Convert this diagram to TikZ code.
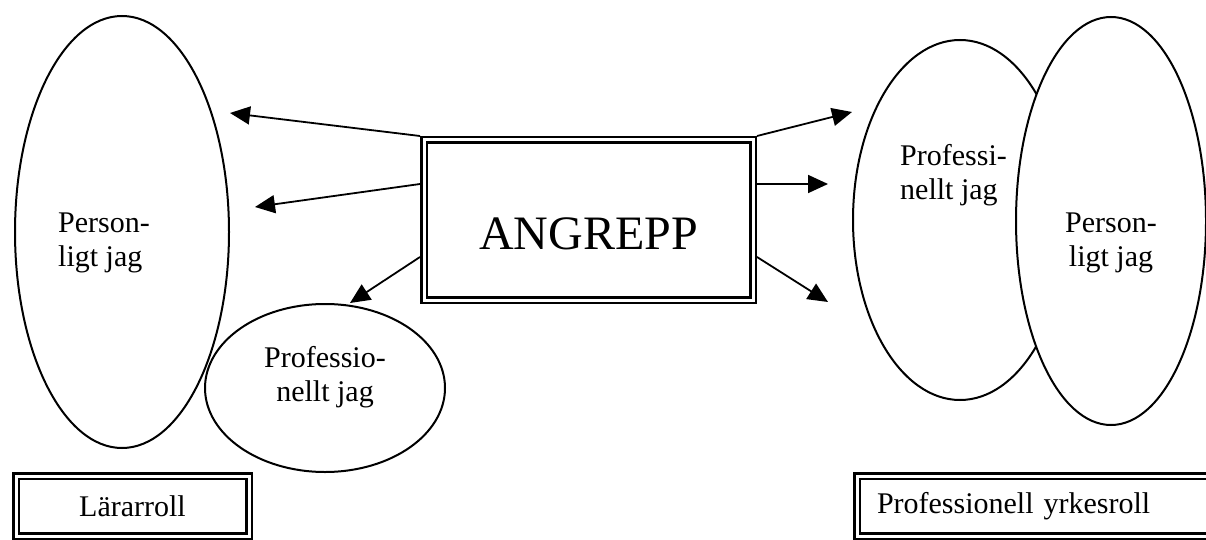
\documentclass[tikz,border=0pt]{standalone}
\usepackage{fontspec}
\setmainfont{Liberation Serif}
\usepackage{tikz}
\usetikzlibrary{arrows.meta,shapes.geometric}

\begin{document}
\begin{tikzpicture}[x=1pt,y=-1pt]
	\tikzstyle{bubble}=[ellipse,draw,line width=2pt,inner sep=0pt]
	\tikzstyle{front bubble}=[bubble,fill=white]
	\tikzstyle{framed}=[rectangle,draw,double,line width=2.5pt,double distance=3pt,inner sep=0pt,outer sep=4pt]
	\tikzstyle{caption}=[inner sep=0pt,font=\fontsize{30pt}{34pt}\selectfont]
	\tikzstyle{edge}=[draw,line width=1.8pt,-{Triangle[length=20pt,width=18pt]}]

	\useasboundingbox (0,0) rectangle (1206,540);
	\clip (0,0) rectangle (1206,540);

	% left: teacher role
	\node[bubble,minimum width=214pt,minimum height=432pt] (lself) at (122,232) {};
	\node[bubble,minimum width=240pt,minimum height=168pt] (lprof) at (325,388) {};
	\node[caption,align=left,anchor=west] (lselftext) at (58,243) {Person-\\ligt jag};
	\node[caption,align=center] (lproftext) at (325,377) {Professio-\\nellt jag};
	\node[framed,caption,minimum width=233pt,minimum height=60pt] (larar) at (132.5,506) {Lärarroll};

	% middle
	\node[framed,minimum width=329pt,minimum height=160pt] (angrepp) at (588.5,220) {};
	\node[caption,font=\fontsize{48pt}{55pt}\selectfont] (angrepptext) at ([yshift=-14pt]angrepp.center) {ANGREPP};

	% right: professional role
	\node[bubble,minimum width=214pt,minimum height=360pt] (rprof) at (960,220) {};
	\node[front bubble,minimum width=190pt,minimum height=408pt] (rself) at (1111,221) {};
	\node[caption,align=left,anchor=west] (rproftext) at (900,175) {Professi-\\nellt jag};
	\node[caption,align=center] (rselftext) at (1111,243) {Person-\\ligt jag};
	\node[framed,caption,text width=319pt,inner xsep=20pt,align=left,minimum height=60pt] (yrke) at (1036.5,506) {Professionell yrkesroll};

	% attacks
	\coordinate (t1) at (230,113);
	\coordinate (t2) at (255,207);
	\coordinate (t3) at (350,303);
	\coordinate (t4) at (852,112);
	\coordinate (t5) at (828,184);
	\coordinate (t6) at (828,302);

	\draw[edge] (angrepp.north west) -- (t1);
	\draw[edge] ([yshift=36pt]angrepp.west) -- (t2);
	\draw[edge] ([yshift=-37pt]angrepp.west) -- (t3);
	\draw[edge] (angrepp.north east) -- (t4);
	\draw[edge] ([yshift=36pt]angrepp.east) -- (t5);
	\draw[edge] ([yshift=-37pt]angrepp.east) -- (t6);
\end{tikzpicture}
\end{document}
